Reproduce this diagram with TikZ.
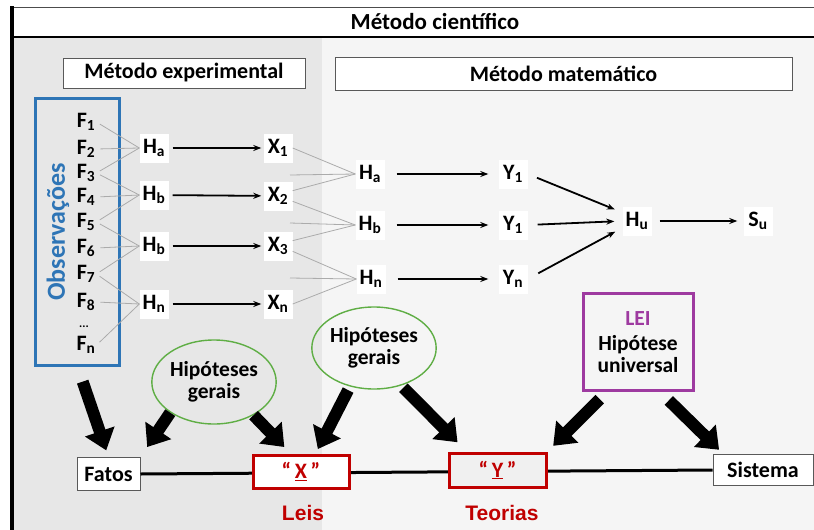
\documentclass[tikz,border=0pt]{standalone}
\usepackage{fontspec}
\setmainfont{Carlito}
\newfontfamily\arialfont{Liberation Sans}
\usetikzlibrary{arrows.meta,shapes.geometric}
\definecolor{panelL}{HTML}{E7E7E7}
\definecolor{panelR}{HTML}{F5F5F5}
\definecolor{obsblue}{HTML}{2E75B6}
\definecolor{redbox}{HTML}{C00000}
\definecolor{leipurple}{HTML}{9E3AA0}
\definecolor{ellgreen}{HTML}{5FAE45}
\definecolor{glgray}{HTML}{ABABAB}
\newcommand{\fsz}[1]{\fontsize{#1}{#1}\selectfont}
\begin{document}
\begin{tikzpicture}[x=1pt,y=-1pt,
  lbl/.style={font=\bfseries\fsz{22}, inner sep=1pt},
  hx/.style={lbl, fill=white, minimum width=29pt, minimum height=29pt, inner sep=1pt},
  gl/.style={draw=glgray, line width=0.8pt},
  tarr/.style={-{Stealth[length=8pt,width=6pt]}, line width=1.8pt},
  blk/.style={line width=12pt, -{Triangle[length=20pt,width=30pt]}},
  gbox/.style={draw=gray!70!black, fill=white, line width=1pt, font=\bfseries\fsz{22}, inner sep=0pt},
  rbox/.style={draw=redbox, line width=3pt, font=\bfseries\fsz{22}, text=redbox, inner sep=0pt},
  hyp/.style={ellipse, draw=ellgreen, line width=1.4pt, font=\bfseries\fsz{21.5}, align=center, inner sep=0pt}
]
\useasboundingbox (0,0) rectangle (814,530);
% backgrounds
\fill[white] (0,0) rectangle (814,530);
\fill[panelL] (14,37) rectangle (322,530);
\fill[panelR] (322,37) rectangle (814,530);
\draw[line width=1pt, black!70] (12,7.5) -- (814,7.5);
\draw[line width=1.6pt] (12,37) -- (814,37);
\draw[line width=4pt] (12,6) -- (12,530);
\node[font=\bfseries\fsz{23}] (title) at (435,21) {Método científico};
% section headers
\node[gbox, minimum width=242pt, minimum height=30pt] (mexp) at (184,73) {Método experimental};
\node[gbox, minimum width=457pt, minimum height=33pt] (mmat) at (563.5,73.5) {Método matemático};
% observations
\node[draw=obsblue, line width=3pt, minimum width=84pt, minimum height=267pt] (obs) at (77.5,231.5) {};
\node[rotate=90, font=\bfseries\fsz{26}, text=obsblue] (obstxt) at (58,232) {Observações};
\node[lbl] (f1) at (86,122) {F\textsubscript{1}};
\node[lbl] (f2) at (86,149) {F\textsubscript{2}};
\node[lbl] (f3) at (86,173) {F\textsubscript{3}};
\node[lbl] (f4) at (86,197) {F\textsubscript{4}};
\node[lbl] (f5) at (86,222) {F\textsubscript{5}};
\node[lbl] (f6) at (86,248) {F\textsubscript{6}};
\node[lbl] (f7) at (86,274) {F\textsubscript{7}};
\node[lbl] (f8) at (86,302) {F\textsubscript{8}};
\node[font=\bfseries\fsz{12}, inner sep=0pt] (fdots) at (84,327) {...};
\node[lbl] (fn) at (86,345) {F\textsubscript{n}};
% first hypotheses
\node[hx] (ha) at (154,148) {H\textsubscript{a}};
\node[hx] (hb) at (154,195) {H\textsubscript{b}};
\node[hx] (hc) at (154,246) {H\textsubscript{b}};
\node[hx] (hn) at (154,304) {H\textsubscript{n}};
\node[hx] (x1) at (278,148) {X\textsubscript{1}};
\node[hx] (x2) at (278,196) {X\textsubscript{2}};
\node[hx] (x3) at (278,246) {X\textsubscript{3}};
\node[hx] (xn) at (278,304) {X\textsubscript{n}};
\foreach \a/\b in {f1/ha,f2/ha,f3/ha,f3/hb,f4/hb,f5/hb,f5/hc,f6/hc,f7/hc,f7/hn,f8/hn,fn/hn}
  \draw[gl, shorten <=4pt] (\a.east) -- (\b.west);
\foreach \a/\b in {ha/x1,hb/x2,hc/x3,hn/xn}
  \draw[tarr, shorten <=4pt, shorten >=2pt] (\a) -- (\b);
% second hypotheses
\node[hx] (ga) at (370,174) {H\textsubscript{a}};
\node[hx] (gb) at (370,225) {H\textsubscript{b}};
\node[hx] (gn) at (371,279) {H\textsubscript{n}};
\node[hx] (y1) at (513,174) {Y\textsubscript{1}};
\node[hx] (y2) at (513,225) {Y\textsubscript{1}};
\node[hx] (y3) at (513,279) {Y\textsubscript{n}};
\coordinate (ca) at (290,175);
\coordinate (cb) at (290,223);
\coordinate (cc) at (290,278);
\draw[gl] (x1.east) -- (ga.west);
\draw[gl] (ca) -- (ga.west);
\draw[gl] (x2.20) -- (ga.west);
\draw[gl] (x2.-20) -- (gb.west);
\draw[gl] (cb) -- (gb.west);
\draw[gl] (x3.20) -- (gb.west);
\draw[gl] (x3.-20) -- (gn.west);
\draw[gl] (cc) -- (gn.west);
\draw[gl] (xn.east) -- (gn.west);
\foreach \a/\b in {ga/y1,gb/y2,gn/y3}
  \draw[tarr, shorten <=12pt, shorten >=10pt] (\a) -- (\b);
\node[hx] (hu) at (637,221) {H\textsubscript{u}};
\node[hx] (su) at (758,221) {S\textsubscript{u}};
\draw[tarr, shorten <=10pt, shorten >=8pt] (y1.east) -- (hu.150);
\draw[tarr, shorten <=10pt, shorten >=8pt] (y2.east) -- (hu.west);
\draw[tarr, shorten <=12pt, shorten >=8pt] (y3.east) -- (hu.205);
\draw[tarr, shorten <=8pt, shorten >=6pt] (hu) -- (su);
% lower part
\node[hyp, minimum width=108pt, minimum height=84pt] (ell1) at (214,382) {Hipóteses\\gerais};
\node[hyp, minimum width=106pt, minimum height=82pt] (ell2) at (374,348) {Hipóteses\\gerais};
\node[draw=leipurple, line width=3pt, minimum width=110pt, minimum height=97pt, align=center, inner sep=0pt, font=\bfseries\fsz{21.5}] (lei) at (638,342)
  {\textcolor{leipurple}{LEI}\\[4pt]Hipótese\\universal};
\node[gbox, minimum width=63pt, minimum height=33pt] (fatos) at (108.5,474) {Fatos};
\node[gbox, minimum width=100pt, minimum height=31pt] (sist) at (763,470) {Sistema};
\draw[line width=3pt] (fatos.east) -- (sist.west);
\node[rbox, fill=white, minimum width=96pt, minimum height=33pt] (xbox) at (301,471.5) {“\,\underline{X}\,”};
\node[rbox, fill=gray!12, minimum width=97pt, minimum height=34pt] (ybox) at (497.5,470) {“\,\underline{Y}\,”};
\node[font=\arialfont\bfseries\fsz{21}, text=redbox] (leis) at (303,513) {Leis};
\node[font=\arialfont\bfseries\fsz{21}, text=redbox] (teorias) at (502,513) {Teorias};
% block arrows
\draw[blk, shorten <=16pt, shorten >=7pt] (obs.south) -- (fatos.north);
\draw[blk, shorten >=12pt] (ell1.215) -- (fatos.north east);
\draw[blk, shorten >=9pt] (ell1.-40) -- (xbox.120);
\draw[blk, shorten <=4pt, shorten >=5pt] (ell2.238) -- (xbox.51);
\draw[blk, shorten <=3pt, shorten >=13pt] (ell2.-54) -- (ybox.149);
\draw[blk, shorten <=10pt, shorten >=8pt] (lei.238) -- (ybox.north east);
\draw[blk, shorten <=12pt, shorten >=6pt] (lei.-66) -- (sist.158);
\end{tikzpicture}
\end{document}
